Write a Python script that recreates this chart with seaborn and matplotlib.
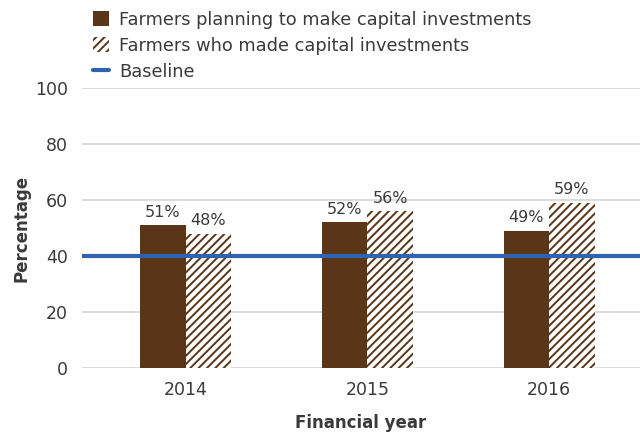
import matplotlib
matplotlib.use("Agg")
import matplotlib.pyplot as plt
import seaborn as sns
import pandas as pd
from matplotlib.patches import Patch
from matplotlib.lines import Line2D

years = ["2014", "2015", "2016"]
planning = [51, 52, 49]
made = [48, 56, 59]
baseline = 40
series_names = ["Farmers planning to make capital investments",
                "Farmers who made capital investments"]
yticks = [0, 20, 40, 60, 80, 100]

brown = "#5B3517"
blue = "#2D63AF"
txt = "#3a3a3a"

sns.set_theme(style="white")
plt.rcParams["font.family"] = ["DejaVu Sans"]
plt.rcParams["hatch.linewidth"] = 1.4

df = pd.DataFrame({
    "year": years * 2,
    "value": planning + made,
    "series": [series_names[0]] * 3 + [series_names[1]] * 3,
})

fig = plt.figure(figsize=(6.4, 4.33), dpi=100)
ax = fig.add_axes([0.128, 0.150, 0.872, 0.647])

sns.barplot(data=df, x="year", y="value", hue="series", order=years,
            hue_order=series_names, palette=[brown, "white"], width=0.5,
            gap=0, dodge=True, ax=ax, legend=False, saturation=1)

for bar in ax.containers[1]:
    bar.set_hatch("////")
    bar.set_edgecolor(brown)
    bar.set_linewidth(0)
for bar in ax.containers[0]:
    bar.set_linewidth(0)

for cont, vals in zip(ax.containers, [planning, made]):
    ax.bar_label(cont, labels=[f"{v}%" for v in vals], padding=4,
                 fontsize=11.5, color=txt)

ax.axhline(baseline, color=blue, lw=3, zorder=5)

ax.set_ylim(0, 100)
ax.set_xlim(-0.57, 2.5)
ax.set_yticks(yticks)
ax.yaxis.grid(True, color="#d9d9d9", lw=1.3)
ax.set_axisbelow(True)
for s in ax.spines.values():
    s.set_visible(False)
ax.tick_params(axis="both", length=0, labelsize=12.5, labelcolor=txt)
ax.tick_params(axis="y", pad=10)
ax.tick_params(axis="x", pad=9)

ax.set_xlabel("Financial year", fontsize=12, fontweight="bold", color=txt, labelpad=11)
ax.set_ylabel("Percentage", fontsize=12, fontweight="bold", color=txt, labelpad=3)

handles = [
    Patch(facecolor=brown, edgecolor="none", label=series_names[0]),
    Patch(facecolor="white", edgecolor=brown, hatch="////", lw=0, label=series_names[1]),
    Line2D([0], [0], color=blue, lw=3, label="Baseline"),
]
fig.legend(handles=handles, loc="upper left", bbox_to_anchor=(0.121, 1.012),
           frameon=False, fontsize=12.8, handlelength=0.9, handleheight=0.9,
           handletextpad=0.55, labelspacing=0.45, labelcolor=txt)

fig.savefig("out.png", dpi=100)
